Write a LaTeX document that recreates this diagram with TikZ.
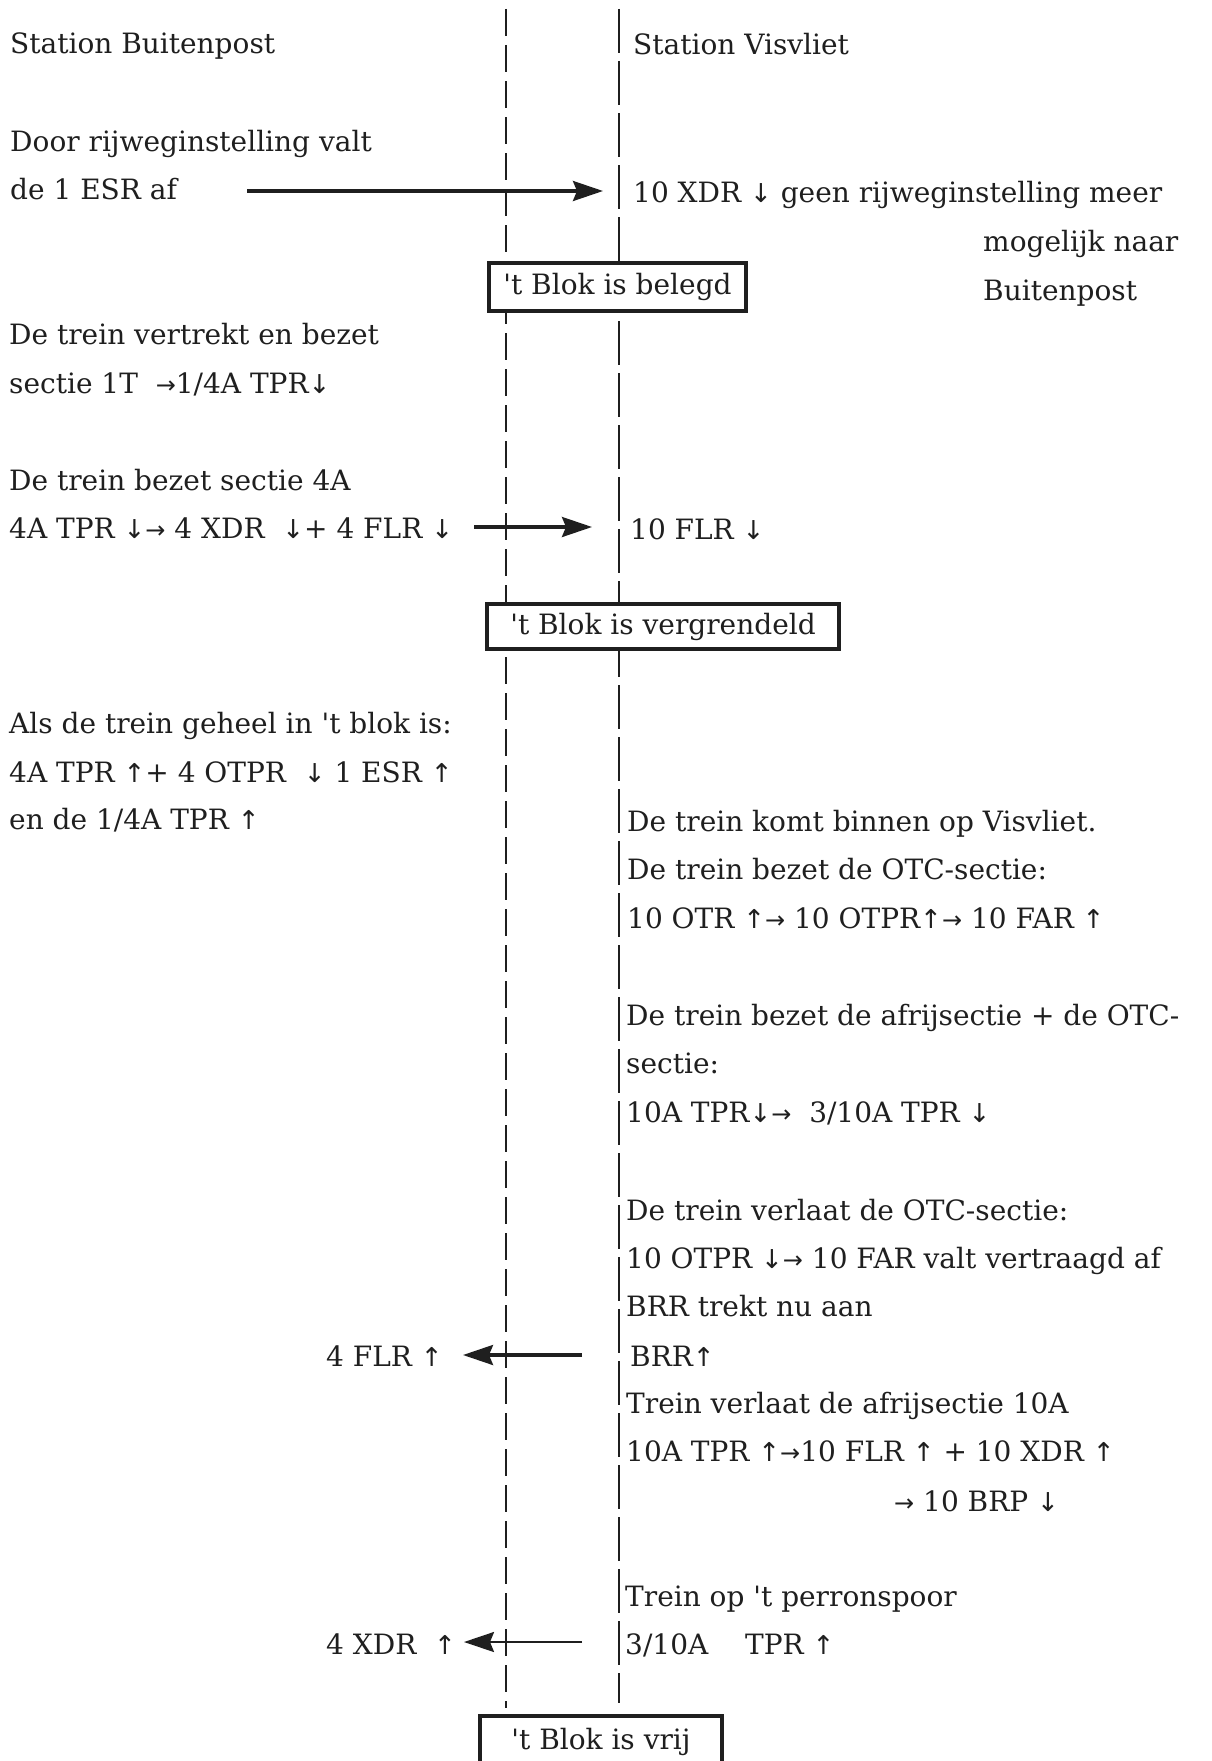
\documentclass[tikz,border=0pt]{standalone}
\usepackage{fontspec}
\newfontfamily\mainf{DejaVu Serif}
\newfontfamily\arrfont{DejaVu Sans}
\newcommand\adn{{\arrfont\fontsize{26}{26}\selectfont ↓}}
\newcommand\aup{{\arrfont\fontsize{26}{26}\selectfont ↑}}
\newcommand\arr{{\arrfont\fontsize{24}{24}\selectfont →}}
\usetikzlibrary{arrows.meta}
\definecolor{ink}{gray}{0.12}
\begin{document}
\begin{tikzpicture}[x=1pt,y=-1pt,
  txt/.style={anchor=base west, inner sep=0pt, text=ink, font=\mainf\fontsize{28}{34}\selectfont},
  blokbox/.style={draw=ink, line width=3.2pt, inner sep=0pt, text=ink, font=\mainf\fontsize{28}{34}\selectfont, fill=white},
  leftline/.style={draw=ink, line width=2.2pt, dash pattern=on 27pt off 9pt},
  rightline/.style={draw=ink, line width=2.5pt, dash pattern=on 44pt off 8pt},
  msg/.style={draw=ink, line width=3.2pt, -{Stealth[length=30pt,width=20pt,inset=4pt]}}]
\useasboundingbox[fill=white] (0,0) rectangle (1211,1761);

% lifeline coordinates
\coordinate (L0) at (506,9);
\coordinate (L1) at (506,1708);
\coordinate (R0) at (619,9);
\coordinate (R1) at (619,1703);

% lifelines
\draw[leftline] (L0) -- (L1);
\draw[rightline] (R0) -- (R1);

% boxes
\node[blokbox, minimum width=257pt, minimum height=48pt] (belegd) at (617.5,287) {'t Blok is belegd};
\node[blokbox, minimum width=352pt, minimum height=45pt] (vergr) at (663,626.5) {'t Blok is vergrendeld};
\node[blokbox, minimum width=242pt, minimum height=52pt] (vrij) at (601,1742) {'t Blok is vrij};

% left column
\node[txt] (t1) at (10,53) {Station Buitenpost};
\node[txt] (t2) at (10,151) {Door rijweginstelling valt};
\node[txt] (t3) at (10,199) {de 1 ESR af};
\node[txt] (t4) at (9,344) {De trein vertrekt en bezet};
\node[txt] (t5) at (9,393) {sectie 1T \ \arr1/4A TPR\adn};
\node[txt] (t6) at (9,490) {De trein bezet sectie 4A};
\node[txt] (t7) at (9,538) {4A TPR \adn\arr{} 4 XDR \ \adn+ 4 FLR \adn};
\node[txt] (t8) at (9,733) {Als de trein geheel in 't blok is:};
\node[txt] (t9) at (9,782) {4A TPR \aup+ 4 OTPR \ \adn{} 1 ESR \aup};
\node[txt] (t10) at (9,829) {en de 1/4A TPR \aup};
\node[txt] (t11) at (326,1366) {4 FLR \aup};
\node[txt] (t12) at (326,1654) {4 XDR \ \aup};

% right column
\node[txt] (r1) at (633,55) {Station Visvliet};
\node[txt] (r2) at (633,202) {10 XDR \adn{} geen rijweginstelling meer};
\node[txt] (r3) at (983,251) {mogelijk naar};
\node[txt] (r4) at (983,300) {Buitenpost};
\node[txt] (r5) at (630,539) {10 FLR \adn};
\node[txt] (r6) at (627,831) {De trein komt binnen op Visvliet.};
\node[txt] (r7) at (627,879) {De trein bezet de OTC-sectie:};
\node[txt] (r8) at (627,928) {10 OTR \aup\arr{} 10 OTPR\aup\arr{} 10 FAR \aup};
\node[txt] (r9) at (626,1025) {De trein bezet de afrijsectie + de OTC-};
\node[txt] (r10) at (626,1073) {sectie:};
\node[txt] (r11) at (626,1122) {10A TPR\adn\arr{} \ 3/10A TPR \adn};
\node[txt] (r12) at (626,1220) {De trein verlaat de OTC-sectie:};
\node[txt] (r13) at (626,1268) {10 OTPR \adn\arr{} 10 FAR valt vertraagd af};
\node[txt] (r14) at (626,1316) {BRR trekt nu aan};
\node[txt] (r15) at (630,1366) {BRR\aup};
\node[txt] (r16) at (626,1413) {Trein verlaat de afrijsectie 10A};
\node[txt] (r17) at (626,1461) {10A TPR \aup\arr10 FLR \aup{} + 10 XDR \aup};
\node[txt] (r18) at (894,1511) {\arr{} 10 BRP \adn};
\node[txt] (r19) at (625,1606) {Trein op 't perronspoor};
\node[txt] (r20) at (625,1654) {3/10A \quad TPR \aup};

% message arrows
\coordinate (a1s) at (247,191);
\coordinate (a1e) at (603,191);
\coordinate (a2s) at (474,527);
\coordinate (a2e) at (592,527);
\coordinate (a3s) at (582,1355);
\coordinate (a3e) at (463,1355);
\coordinate (a4s) at (582,1642);
\coordinate (a4e) at (464,1642);
\draw[msg] (a1s) -- (a1e);
\draw[msg] (a2s) -- (a2e);
\draw[msg] (a3s) -- (a3e);
\draw[msg, line width=2.4pt] (a4s) -- (a4e);
\end{tikzpicture}
\end{document}
